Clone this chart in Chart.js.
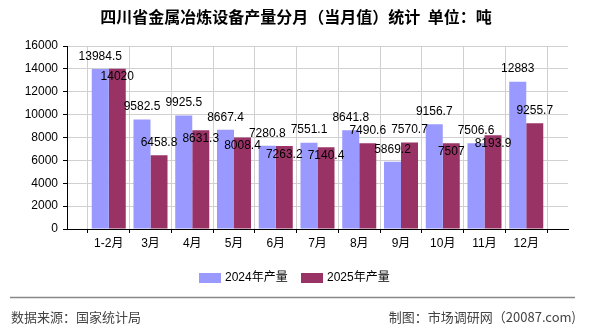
<!DOCTYPE html>
<html>
<head>
<meta charset="utf-8">
<script src="https://cdn.jsdelivr.net/npm/chart.js@4/dist/chart.umd.min.js"></script>
<style>
  html, body { margin: 0; padding: 0; background: #fff; }
  #wrap { width: 590px; height: 330px; position: relative; }
</style>
</head>
<body>
<div id="wrap"><canvas id="chart" width="590" height="330"></canvas></div>
<script>
const months = ['1-2月', '3月', '4月', '5月', '6月', '7月', '8月', '9月', '10月', '11月', '12月'];
const output2024 = [13984.5, 9582.5, 9925.5, 8667.4, 7280.8, 7551.1, 8641.8, 5869.2, 9156.7, 7506.6, 12883];
const output2025 = [14020, 6458.8, 8631.3, 8008.4, 7263.2, 7140.4, 7490.6, 7570.7, 7507, 8193.9, 9255.7];
const yTicks = [0, 2000, 4000, 6000, 8000, 10000, 12000, 14000, 16000];

const TITLE = '四川省金属冶炼设备产量分月（当月值）统计  单位：吨';
const SOURCE = '数据来源：国家统计局';
const MAKER = '制图：市场调研网（20087.com)';
const NUM_FONT = '12px "Liberation Sans", "Noto Sans CJK SC", sans-serif';
const CJK_FONT = '"Noto Sans CJK SC", sans-serif';

// which 2025 labels sit inside the bar top instead of above it
const below2025 = [true, false, true, true, true, true, false, false, true, true, false];

// empty slot on each side, bars sit on the grid lines
const labels = [''].concat(months, ['']);
const pad = arr => [null].concat(arr, [null]);

const decorPlugin = {
    id: 'decor',
    afterDatasetsDraw(chart) {
        const ctx = chart.ctx;
        ctx.save();
        ctx.font = NUM_FONT;
        ctx.fillStyle = '#000';
        ctx.textAlign = 'center';
        ctx.textBaseline = 'middle';
        chart.data.datasets.forEach((ds, di) => {
            const meta = chart.getDatasetMeta(di);
            meta.data.forEach((bar, i) => {
                const v = ds.data[i];
                if (v === null) return;
                let y = bar.y - 12.5;
                if (di === 1 && below2025[i - 1]) y = bar.y + 8.5;
                ctx.fillText(String(v), bar.x, y);
            });
        });
        ctx.restore();
    },
    afterDraw(chart) {
        const ctx = chart.ctx;
        ctx.save();
        // title
        ctx.fillStyle = '#000';
        ctx.textAlign = 'center';
        ctx.textBaseline = 'middle';
        ctx.font = 'bold 16px ' + CJK_FONT;
        ctx.fillText(TITLE, 296, 17);

        // legend
        const items = [{ x: 199 }, { x: 301 }];
        ctx.font = NUM_FONT;
        ctx.textAlign = 'left';
        chart.data.datasets.forEach((ds, di) => {
            const x = items[di].x;
            ctx.fillStyle = ds.backgroundColor;
            ctx.fillRect(x, 273, 22, 10);
            ctx.fillStyle = '#000';
            ctx.fillText(ds.label, x + 26, 278);
        });

        // footer
        ctx.strokeStyle = '#888';
        ctx.lineWidth = 1.5;
        ctx.beginPath();
        ctx.moveTo(10, 297.5);
        ctx.lineTo(575, 297.5);
        ctx.stroke();
        ctx.fillStyle = '#444';
        ctx.font = '13px ' + CJK_FONT;
        ctx.fillText(SOURCE, 11, 317);
        ctx.textAlign = 'right';
        ctx.fillText(MAKER, 576, 317);
        ctx.restore();
    }
};

const ctx = document.getElementById('chart').getContext('2d');
const chart = new Chart(ctx, {
    type: 'bar',
    data: {
        labels: labels,
        datasets: [
            {
                label: '2024年产量',
                data: pad(output2024),
                backgroundColor: '#9999ff',
                categoryPercentage: 0.815,
                barPercentage: 1
            },
            {
                label: '2025年产量',
                data: pad(output2025),
                backgroundColor: '#993366',
                categoryPercentage: 0.815,
                barPercentage: 1
            }
        ]
    },
    options: {
        responsive: false,
        animation: false,
        layout: { padding: { top: 46, right: 22, left: 0, bottom: 0 } },
        plugins: {
            legend: { display: false },
            title: { display: false },
            tooltip: { enabled: false }
        },
        scales: {
            x: {
                offset: false,
                grid: { color: '#d0d0d0', tickColor: '#000', tickLength: 4 },
                border: { color: '#000', width: 1 },
                ticks: {
                    color: '#000',
                    padding: 3,
                    maxRotation: 0,
                    autoSkip: false,
                    font: { family: '"Liberation Sans", "Noto Sans CJK SC", sans-serif', size: 12 }
                },
                afterFit: s => { s.height = 101; }
            },
            y: {
                min: 0,
                max: 16000,
                afterBuildTicks: s => { s.ticks = yTicks.map(v => ({ value: v })); },
                grid: { color: '#d0d0d0', tickColor: '#000', tickLength: 4 },
                border: { color: '#000', width: 1 },
                ticks: {
                    color: '#000',
                    padding: 5,
                    font: { family: '"Liberation Sans", sans-serif', size: 12 },
                    callback: v => String(v)
                },
                afterFit: s => { s.width = 67; }
            }
        }
    },
    plugins: [decorPlugin]
});
</script>
</body>
</html>
